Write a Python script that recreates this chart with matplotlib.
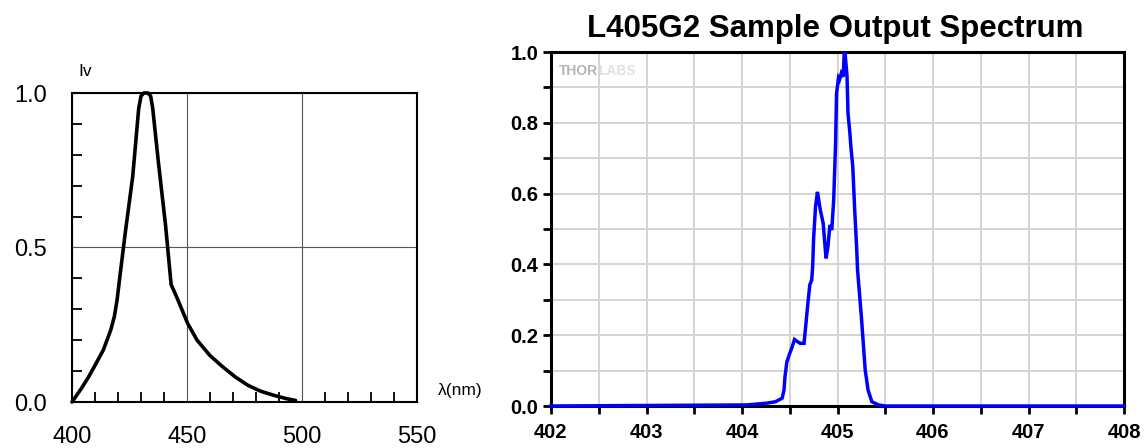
import matplotlib
matplotlib.use('Agg')
import matplotlib.pyplot as plt
from matplotlib.ticker import MultipleLocator

plt.rcParams['font.family'] = ['Liberation Sans', 'DejaVu Sans']

# ---- Left panel data (relative luminous intensity vs wavelength) ----
left_wavelength = [400.0, 404.0, 407.2, 410.4, 413.6, 416.8, 418.4, 419.6, 420.8,
                   423.2, 426.4, 429.0, 430.0, 431.2, 433.0, 434.2, 435.1, 437.5,
                   440.7, 443.1, 445.5, 450.3, 454.4, 459.9, 465.5, 471.0, 476.5,
                   482.0, 487.6, 493.1, 497.2]
left_intensity = [0.0, 0.043, 0.081, 0.124, 0.168, 0.232, 0.276, 0.33, 0.405,
                  0.55, 0.73, 0.95, 0.99, 1.0, 1.0, 0.99, 0.95, 0.78,
                  0.57, 0.38, 0.34, 0.254, 0.2, 0.151, 0.114, 0.081, 0.054,
                  0.035, 0.022, 0.011, 0.005]
left_xticks = [400, 450, 500, 550]
left_xticklabels = ['400', '450', '500', '550']
left_yticks = [0.0, 0.5, 1.0]
left_yticklabels = ['0.0', '0.5', '1.0']

# ---- Right panel data (L405G2 sample output spectrum) ----
right_wavelength = [402.0, 404.05, 404.26, 404.35, 404.42, 404.44, 404.45, 404.47,
                    404.50, 404.52, 404.55, 404.58, 404.61, 404.65, 404.67, 404.69,
                    404.71, 404.73, 404.74, 404.75, 404.77, 404.79, 404.80, 404.82,
                    404.85, 404.87, 404.88, 404.90, 404.92, 404.94, 404.96, 404.98,
                    404.99, 405.01, 405.02, 405.04, 405.06, 405.07, 405.08, 405.10,
                    405.11, 405.13, 405.14, 405.16, 405.18, 405.20, 405.21, 405.23,
                    405.25, 405.27, 405.29, 405.32, 405.36, 405.43, 405.50, 408.0]
right_intensity = [0.0, 0.003, 0.008, 0.012, 0.022, 0.045, 0.083, 0.125,
                   0.149, 0.163, 0.188, 0.182, 0.177, 0.177, 0.234, 0.29,
                   0.342, 0.356, 0.394, 0.474, 0.563, 0.605, 0.587, 0.554,
                   0.516, 0.45, 0.417, 0.45, 0.511, 0.497, 0.582, 0.742,
                   0.883, 0.926, 0.921, 0.94, 0.93, 0.995, 0.995, 0.93,
                   0.827, 0.77, 0.733, 0.676, 0.554, 0.45, 0.384, 0.318,
                   0.252, 0.177, 0.102, 0.045, 0.012, 0.003, 0.0, 0.0]
right_xticks = [402, 403, 404, 405, 406, 407, 408]
right_yticks = [0.0, 0.2, 0.4, 0.6, 0.8, 1.0]
right_title = 'L405G2 Sample Output Spectrum'

W, H = 1145, 448
fig = plt.figure(figsize=(W / 100, H / 100), dpi=100)


def frac_box(x0, y0, x1, y1):
    return [x0 / W, 1 - y1 / H, (x1 - x0) / W, (y1 - y0) / H]


# ---------------- Left panel ----------------
ax1 = fig.add_axes(frac_box(72, 93, 417, 402))
ax1.plot(left_wavelength, left_intensity, color='black', lw=2.6,
         solid_joinstyle='round', solid_capstyle='round', clip_on=False, zorder=5)
ax1.set_xlim(400, 550)
ax1.set_ylim(0, 1)
ax1.set_xticks(left_xticks)
ax1.set_xticklabels(left_xticklabels)
ax1.set_yticks(left_yticks)
ax1.set_yticklabels(left_yticklabels)
ax1.xaxis.set_minor_locator(MultipleLocator(10))
ax1.yaxis.set_minor_locator(MultipleLocator(0.1))
ax1.tick_params(which='major', length=0, labelsize=17)
ax1.tick_params(axis='x', which='major', pad=17)
ax1.tick_params(axis='y', which='major', pad=18)
ax1.tick_params(which='minor', direction='in', length=7, width=1.3, color='black')
ax1.grid(True, which='major', color='#555555', lw=0.8)
for s in ax1.spines.values():
    s.set_linewidth(1.5)
    s.set_color('black')
fig.text(78 / W, 1 - 72 / H, 'Iv', fontsize=12.5, ha='left', va='center')
fig.text(438 / W, 1 - 391 / H, 'λ(nm)', fontsize=12.5, ha='left', va='center')

# ---------------- Right panel ----------------
ax2 = fig.add_axes(frac_box(551, 52, 1124, 406))
ax2.plot(right_wavelength, right_intensity, color='#0000ff', lw=2.5,
         clip_on=False, zorder=5, solid_joinstyle='miter')
ax2.set_xlim(402, 408)
ax2.set_ylim(0, 1)
ax2.set_xticks(right_xticks)
ax2.set_xticklabels([str(v) for v in right_xticks])
ax2.set_yticks(right_yticks)
ax2.set_yticklabels([f'{v:.1f}' for v in right_yticks])
ax2.xaxis.set_minor_locator(MultipleLocator(0.5))
ax2.yaxis.set_minor_locator(MultipleLocator(0.1))
ax2.tick_params(which='both', direction='out', length=6, width=2, color='black',
                labelsize=14.5)
ax2.tick_params(axis='x', which='major', pad=6)
ax2.tick_params(axis='y', which='major', pad=3)
for lab in ax2.get_xticklabels() + ax2.get_yticklabels():
    lab.set_fontweight('bold')
ax2.grid(True, which='both', color='#d4d4d4', lw=1.4)
ax2.set_axisbelow(True)
for s in ax2.spines.values():
    s.set_linewidth(2.2)
    s.set_color('black')

ax2.text(0.014, 0.945, 'THOR', transform=ax2.transAxes, fontsize=10,
         fontweight='bold', color='#b4b4b4', ha='left', va='center')
ax2.text(0.082, 0.945, 'LABS', transform=ax2.transAxes, fontsize=10,
         fontweight='bold', color='#e2e2e2', ha='left', va='center')

fig.text(835 / W, 1 - 29 / H, right_title, fontsize=22.5, fontweight='bold',
         ha='center', va='center')

fig.savefig('out.png', dpi=100)
